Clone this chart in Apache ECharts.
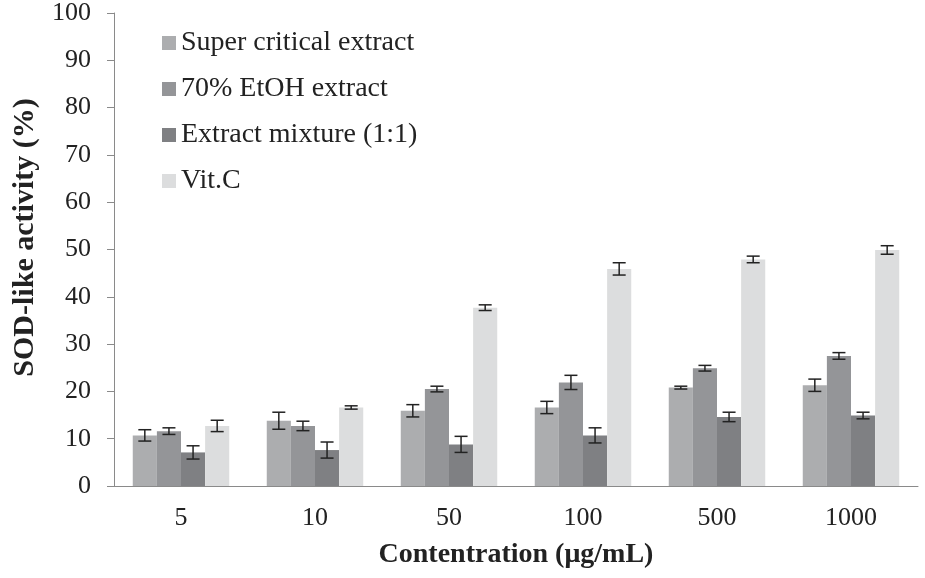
<!DOCTYPE html>
<html>
<head>
<meta charset="utf-8">
<script src="https://cdn.jsdelivr.net/npm/echarts@6/dist/echarts.min.js"></script>
<style>html,body{margin:0;padding:0;background:#fff}#c{width:925px;height:578px}</style>
</head>
<body>
<div id="c"></div>
<script>
const categories = ['5', '10', '50', '100', '500', '1000'];
const seriesNames = ['Super critical extract', '70% EtOH extract', 'Extract mixture (1:1)', 'Vit.C'];
const superCritical = [10.7, 13.8, 15.9, 16.6, 20.8, 21.3];
const superCriticalErr = [1.2, 1.8, 1.3, 1.3, 0.3, 1.3];
const etoh70 = [11.6, 12.7, 20.5, 21.9, 24.9, 27.5];
const etoh70Err = [0.7, 1.0, 0.6, 1.5, 0.6, 0.7];
const mixture = [7.1, 7.6, 8.8, 10.7, 14.6, 14.9];
const mixtureErr = [1.4, 1.7, 1.7, 1.6, 1.0, 0.7];
const vitC = [12.7, 16.6, 37.7, 45.9, 47.9, 49.9];
const vitCErr = [1.2, 0.35, 0.6, 1.3, 0.7, 0.9];

const values = [superCritical, etoh70, mixture, vitC];
const errs = [superCriticalErr, etoh70Err, mixtureErr, vitCErr];
const colors = ['#acadaf', '#949598', '#7f8083', '#dcddde'];
const catGap = 0.28;
const font = '"Liberation Serif", "DejaVu Serif", serif';

const series = [];
values.forEach((v, i) => {
  series.push({
    name: seriesNames[i], type: 'bar', data: v, barGap: '0%', barCategoryGap: (catGap*100)+'%',
    itemStyle: { color: colors[i] }, z: 2
  });
});
values.forEach((v, i) => {
  series.push({
    type: 'custom', name: 'err' + i, z: 5,
    data: v.map((val, k) => [k, val, errs[i][k]]),
    encode: { x: 0, y: 1 },
    renderItem: function (params, api) {
      const k = api.value(0), val = api.value(1), e = api.value(2);
      const cw = api.size([1, 0])[0];
      const bw = cw * (1 - catGap) / 4;
      const c = api.coord([k, val]);
      const x = c[0] - 2 * bw + (i + 0.5) * bw;
      const hi = api.coord([k, val + e])[1];
      const lo = api.coord([k, val - e])[1];
      const cap = 6.5;
      const st = { stroke: '#222', lineWidth: 1.5 };
      return { type: 'group', children: [
        { type: 'line', shape: { x1: x, y1: hi, x2: x, y2: lo }, style: st },
        { type: 'line', shape: { x1: x - cap, y1: hi, x2: x + cap, y2: hi }, style: st },
        { type: 'line', shape: { x1: x - cap, y1: lo, x2: x + cap, y2: lo }, style: st }
      ]};
    }
  });
});

const chart = echarts.init(document.getElementById('c'));
chart.setOption({
  animation: false,
  backgroundColor: '#fff',
  grid: { left: 114, right: 7, top: 12, bottom: 92 },
  legend: {
    data: seriesNames, orient: 'vertical', left: 157, top: 24, itemGap: 18,
    itemWidth: 14, itemHeight: 14, icon: 'rect',
    textStyle: { fontFamily: font, fontSize: 28, color: '#222' }
  },
  xAxis: {
    type: 'category', data: categories,
    axisLine: { lineStyle: { color: '#8a8a8a', width: 1 } },
    axisTick: { length: 7, lineStyle: { color: '#8a8a8a' } },
    axisLabel: { fontFamily: font, fontSize: 26, color: '#222', margin: 19 },
    name: 'Contentration (μg/mL)', nameLocation: 'middle', nameGap: 55,
    nameTextStyle: { fontFamily: font, fontSize: 28, fontWeight: 'bold', color: '#222' }
  },
  yAxis: {
    type: 'value', min: 0, max: 100, interval: 10,
    axisLine: { show: true, lineStyle: { color: '#8a8a8a', width: 1 } },
    axisTick: { show: true, length: 7, lineStyle: { color: '#8a8a8a' } },
    splitLine: { show: false },
    axisLabel: { fontFamily: font, fontSize: 26, color: '#222', margin: 23 },
    name: 'SOD-like activity (%)', nameLocation: 'middle', nameGap: 74,
    nameTextStyle: { fontFamily: font, fontSize: 30, fontWeight: 'bold', color: '#222', padding: [0, 0, 0, 24] }
  },
  series: series
});
</script>
</body>
</html>
